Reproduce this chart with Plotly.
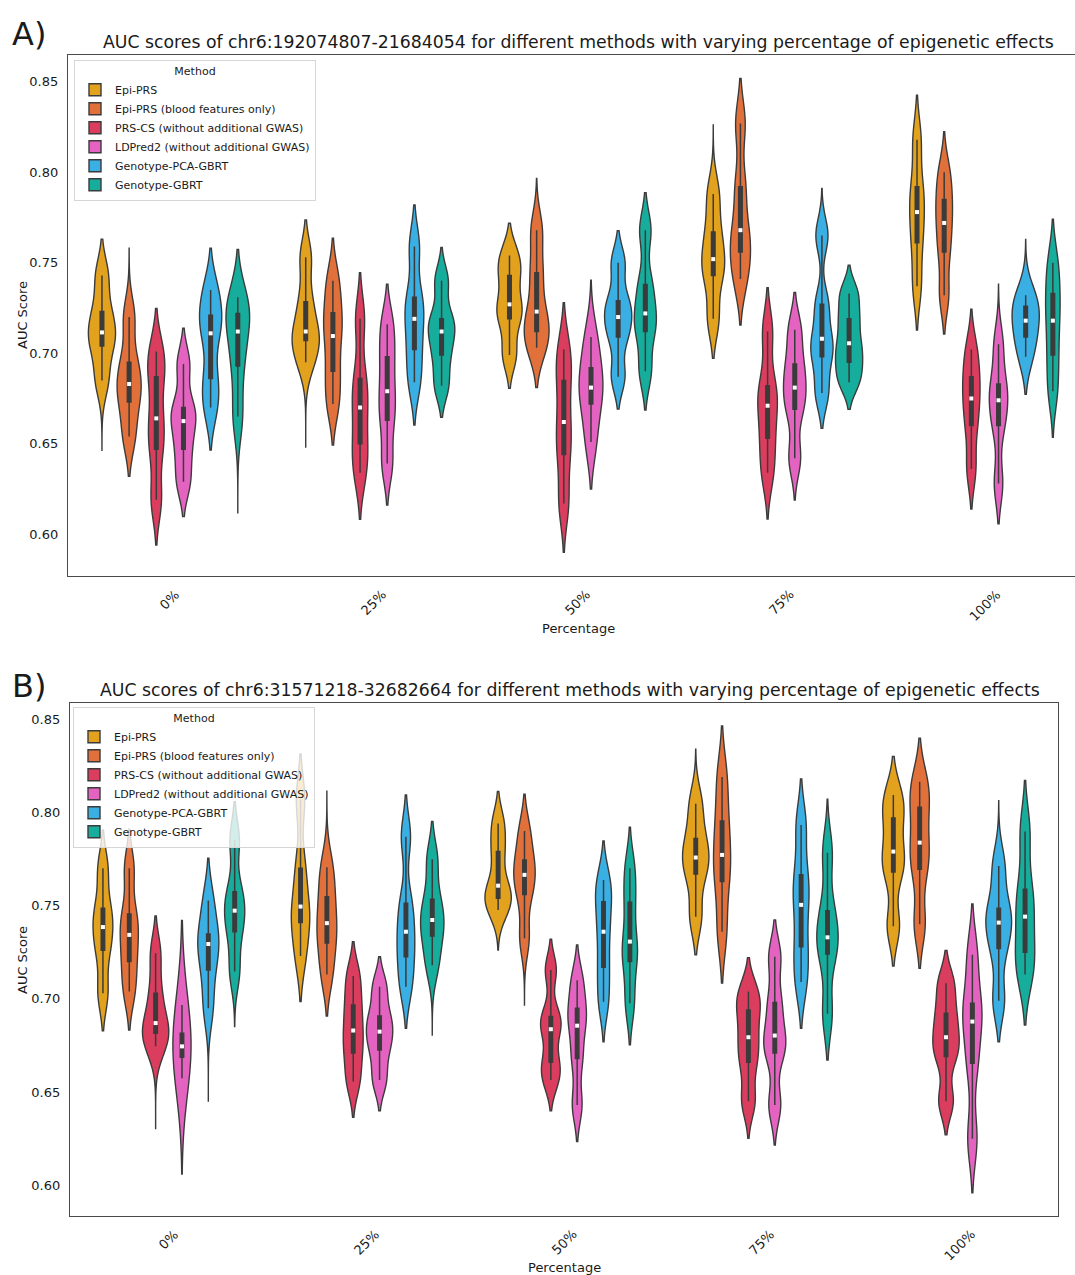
import plotly.graph_objects as go

FONT = "DejaVu Sans"
EDGE = "#3b3b3b"
AXIS = "#4a4a4a"
TEXT = "#1a1a1a"

METHODS = [
    "Epi-PRS",
    "Epi-PRS (blood features only)",
    "PRS-CS (without additional GWAS)",
    "LDPred2 (without additional GWAS)",
    "Genotype-PCA-GBRT",
    "Genotype-GBRT",
]
COLORS = ["#E3A21E", "#E2703A", "#DA3D5E", "#E463C0", "#3AAFE4", "#17AD9C"]
PERCENTAGES = ["0%", "25%", "50%", "75%", "100%"]

# ---------------- Panel A: chr6:192074807-21684054 ----------------
# rows = METHODS, columns = PERCENTAGES
A_WLO = [
    [0.685, 0.695, 0.699, 0.719, 0.737],
    [0.654, 0.672, 0.703, 0.741, 0.732],
    [0.619, 0.634, 0.617, 0.634, 0.636],
    [0.629, 0.639, 0.651, 0.642, 0.628],
    [0.670, 0.684, 0.687, 0.678, 0.698],
    [0.665, 0.682, 0.690, 0.684, 0.679],
]
A_Q1 = [
    [0.704, 0.707, 0.719, 0.743, 0.761],
    [0.673, 0.690, 0.712, 0.756, 0.756],
    [0.647, 0.650, 0.644, 0.653, 0.660],
    [0.647, 0.663, 0.672, 0.669, 0.660],
    [0.686, 0.702, 0.709, 0.698, 0.709],
    [0.693, 0.699, 0.712, 0.695, 0.699],
]
A_MED = [
    [0.7115, 0.712, 0.727, 0.752, 0.778],
    [0.683, 0.7095, 0.723, 0.768, 0.772],
    [0.664, 0.670, 0.662, 0.671, 0.675],
    [0.6625, 0.679, 0.681, 0.681, 0.674],
    [0.711, 0.719, 0.720, 0.708, 0.718],
    [0.712, 0.712, 0.722, 0.7055, 0.718],
]
A_Q3 = [
    [0.723, 0.7285, 0.743, 0.767, 0.792],
    [0.695, 0.7224, 0.7445, 0.792, 0.785],
    [0.687, 0.686, 0.685, 0.682, 0.687],
    [0.670, 0.698, 0.692, 0.694, 0.683],
    [0.721, 0.731, 0.729, 0.727, 0.726],
    [0.722, 0.719, 0.738, 0.719, 0.733],
]
A_WHI = [
    [0.743, 0.753, 0.754, 0.788, 0.818],
    [0.720, 0.740, 0.768, 0.827, 0.800],
    [0.701, 0.719, 0.702, 0.712, 0.702],
    [0.694, 0.716, 0.709, 0.713, 0.705],
    [0.735, 0.759, 0.750, 0.765, 0.732],
    [0.731, 0.740, 0.768, 0.733, 0.750],
]
# ends of the violin outlines (tips)
A_TOP = [
    [0.763, 0.7736, 0.7718, 0.8261, 0.8426],
    [0.758, 0.7635, 0.7966, 0.8519, 0.8224],
    [0.7248, 0.7445, 0.7279, 0.7362, 0.7243],
    [0.7138, 0.7382, 0.7404, 0.7336, 0.7382],
    [0.758, 0.7819, 0.7677, 0.7911, 0.7629],
    [0.7574, 0.7585, 0.7887, 0.7487, 0.774],
]
A_BOT = [
    [0.646, 0.6478, 0.6806, 0.6972, 0.7128],
    [0.632, 0.6493, 0.6811, 0.7156, 0.7106],
    [0.594, 0.6082, 0.590, 0.6084, 0.6139],
    [0.6097, 0.6161, 0.625, 0.6189, 0.6057],
    [0.6465, 0.6603, 0.6692, 0.6585, 0.6773],
    [0.6115, 0.6646, 0.6686, 0.669, 0.6535],
]

# ---------------- Panel B: chr6:31571218-32682664 ----------------
B_WLO = [
    [0.703, 0.723, 0.7477, 0.744, 0.739],
    [0.704, 0.713, 0.7325, 0.736, 0.740],
    [0.6745, 0.6556, 0.6565, 0.645, 0.645],
    [0.6574, 0.6565, 0.643, 0.643, 0.625],
    [0.695, 0.7065, 0.6985, 0.709, 0.699],
    [0.7146, 0.718, 0.6976, 0.692, 0.713],
]
B_Q1 = [
    [0.726, 0.741, 0.754, 0.767, 0.768],
    [0.720, 0.730, 0.756, 0.763, 0.7695],
    [0.6815, 0.671, 0.666, 0.666, 0.669],
    [0.6687, 0.6726, 0.668, 0.671, 0.6655],
    [0.7155, 0.7226, 0.717, 0.728, 0.727],
    [0.736, 0.7337, 0.720, 0.724, 0.725],
]
B_MED = [
    [0.7385, 0.7495, 0.7607, 0.7758, 0.779],
    [0.7343, 0.7406, 0.7665, 0.7772, 0.7838],
    [0.687, 0.683, 0.6837, 0.6794, 0.6794],
    [0.6745, 0.6824, 0.6856, 0.6803, 0.6878],
    [0.7294, 0.736, 0.736, 0.7504, 0.7409],
    [0.7473, 0.7423, 0.7307, 0.733, 0.7441],
]
B_Q3 = [
    [0.7486, 0.770, 0.779, 0.786, 0.797],
    [0.7455, 0.7548, 0.7745, 0.7954, 0.8028],
    [0.703, 0.6967, 0.6905, 0.694, 0.6923],
    [0.6815, 0.6908, 0.695, 0.698, 0.6976],
    [0.7348, 0.7513, 0.7521, 0.7665, 0.7486],
    [0.7575, 0.7534, 0.7518, 0.7473, 0.7588],
]
B_WHI = [
    [0.770, 0.807, 0.794, 0.8046, 0.8094],
    [0.770, 0.7706, 0.790, 0.819, 0.8165],
    [0.7245, 0.7123, 0.7155, 0.7039, 0.7084],
    [0.6967, 0.7065, 0.710, 0.7226, 0.7236],
    [0.7527, 0.787, 0.7638, 0.7933, 0.7713],
    [0.7852, 0.7749, 0.770, 0.7784, 0.7897],
]
B_TOP = [
    [0.7906, 0.8314, 0.8112, 0.8339, 0.830],
    [0.791, 0.8117, 0.8098, 0.8464, 0.8398],
    [0.7445, 0.7307, 0.732, 0.7221, 0.7259],
    [0.742, 0.7226, 0.7289, 0.7423, 0.7509],
    [0.7754, 0.8094, 0.7847, 0.818, 0.8063],
    [0.8058, 0.7951, 0.7921, 0.8071, 0.8171],
]
B_BOT = [
    [0.6829, 0.6985, 0.7262, 0.7236, 0.7176],
    [0.6833, 0.6908, 0.6967, 0.7084, 0.7164],
    [0.630, 0.6365, 0.640, 0.6252, 0.627],
    [0.606, 0.6399, 0.6234, 0.6216, 0.596],
    [0.6448, 0.6842, 0.677, 0.6842, 0.677],
    [0.6851, 0.6806, 0.6753, 0.6672, 0.686],
]

A_TITLE = "AUC scores of chr6:192074807-21684054 for different methods with varying percentage of epigenetic effects"
B_TITLE = "AUC scores of chr6:31571218-32682664 for different methods with varying percentage of epigenetic effects"

W, H = 1075, 1275

fig = go.Figure()

panels = [
    dict(key="A", xa="x", ya="y", leg="legend",
         wlo=A_WLO, q1=A_Q1, med=A_MED, q3=A_Q3, whi=A_WHI, top=A_TOP, bot=A_BOT),
    dict(key="B", xa="x2", ya="y2", leg="legend2",
         wlo=B_WLO, q1=B_Q1, med=B_MED, q3=B_Q3, whi=B_WHI, top=B_TOP, bot=B_BOT),
]

for p in panels:
    for m, name in enumerate(METHODS):
        og = f"{p['key']}-{m}"
        for j, pct in enumerate(PERCENTAGES):
            sample = [p["wlo"][m][j], p["q1"][m][j], p["med"][m][j],
                      p["q3"][m][j], p["whi"][m][j]]
            top, bot = p["top"][m][j], p["bot"][m][j]
            # kernel width from the shorter of the two tails (seaborn cut = 2 bw)
            bw = max(min(top - max(sample), min(sample) - bot) / 2.0, 0.005)
            fig.add_trace(go.Violin(
                x=[pct] * len(sample), y=sample, name=name,
                showlegend=(j == 0), legend=p["leg"],
                offsetgroup=og, scalegroup=f"{p['key']}{j}", scalemode="width",
                bandwidth=bw, spanmode="manual", span=[bot, top],
                fillcolor=COLORS[m], line=dict(color=EDGE, width=1.4),
                points=False, box_visible=False, meanline_visible=False,
                opacity=1, hoverinfo="skip",
                xaxis=p["xa"], yaxis=p["ya"],
            ))
        fig.add_trace(go.Box(
            x=PERCENTAGES, q1=p["q1"][m], median=p["med"][m], q3=p["q3"][m],
            lowerfence=p["wlo"][m], upperfence=p["whi"][m],
            offsetgroup=og, fillcolor=EDGE, line=dict(color=EDGE, width=1.5),
            whiskerwidth=0, boxpoints=False, showlegend=False, hoverinfo="skip",
            xaxis=p["xa"], yaxis=p["ya"],
        ))
        fig.add_trace(go.Scatter(
            x=PERCENTAGES, y=p["med"][m], mode="markers",
            marker=dict(symbol="square", size=4, color="white", line=dict(width=0)),
            offsetgroup=og, showlegend=False, hoverinfo="skip",
            xaxis=p["xa"], yaxis=p["ya"],
        ))

ticks_y = [0.60, 0.65, 0.70, 0.75, 0.80, 0.85]
common_x = dict(type="category", categoryorder="array", categoryarray=PERCENTAGES,
                showline=True, linecolor=AXIS, linewidth=1.3, mirror=True,
                ticks="", showgrid=False, zeroline=False, showticklabels=False)
common_y = dict(showline=True, linecolor=AXIS, linewidth=1.3,
                ticks="", showgrid=False, zeroline=False,
                tickvals=ticks_y, tickformat=".2f", ticklabelstandoff=6,
                tickfont=dict(size=13, family=FONT, color=TEXT))

legend_common = dict(xanchor="left", yanchor="top",
                     bgcolor="rgba(255,255,255,0.8)", bordercolor="#d6d6d6", borderwidth=1,
                     font=dict(size=11, family=FONT, color=TEXT), tracegroupgap=0,
                     title=dict(text="Method", side="top center", font=dict(size=11)))

fig.update_layout(
    width=W, height=H, margin=dict(l=0, r=0, t=0, b=0),
    paper_bgcolor="white", plot_bgcolor="white",
    font=dict(family=FONT, color=TEXT),
    violinmode="group", violingap=0.2, violingroupgap=0,
    boxmode="group", boxgap=0.2, boxgroupgap=0.87,
    scattermode="group", scattergap=0.2,
    xaxis=dict(domain=[68 / W, 1.0], anchor="y", range=[-0.5, 4.442], **common_x),
    yaxis=dict(domain=[1 - 576 / H, 1 - 55 / H], anchor="x", range=[0.5769, 0.8648],
               mirror=False, **common_y),
    xaxis2=dict(domain=[70 / W, 1058 / W], anchor="y2", range=[-0.5, 4.5], **common_x),
    yaxis2=dict(domain=[1 - 1216 / H, 1 - 703 / H], anchor="x2", range=[0.5835, 0.8587],
                mirror=True, **common_y),
    legend=dict(x=74 / W, y=1 - 60 / H, **legend_common),
    legend2=dict(x=73 / W, y=1 - 707 / H, **legend_common),
)

ann = [
    dict(text="A)", x=10 / W, y=1 - 34 / H, font=dict(size=32), xanchor="left", yanchor="middle"),
    dict(text="B)", x=10 / W, y=1 - 686 / H, font=dict(size=32), xanchor="left", yanchor="middle"),
    dict(text=A_TITLE, x=578 / W, y=1 - 42 / H, font=dict(size=17.3), xanchor="center", yanchor="middle"),
    dict(text=B_TITLE, x=570 / W, y=1 - 690 / H, font=dict(size=17.3), xanchor="center", yanchor="middle"),
    dict(text="AUC Score", x=22 / W, y=1 - 315 / H, textangle=-90, font=dict(size=13), xanchor="center", yanchor="middle"),
    dict(text="AUC Score", x=22 / W, y=1 - 960 / H, textangle=-90, font=dict(size=13), xanchor="center", yanchor="middle"),
    dict(text="Percentage", x=578 / W, y=1 - 628 / H, font=dict(size=13), xanchor="center", yanchor="middle"),
    dict(text="Percentage", x=564 / W, y=1 - 1267 / H, font=dict(size=13), xanchor="center", yanchor="middle"),
]
for a in ann:
    a.update(xref="paper", yref="paper", showarrow=False)
# rotated category labels, centred under each category (matplotlib style)
for xref, ybottom in (("x", 576), ("x2", 1216)):
    for pct in PERCENTAGES:
        ann.append(dict(text=pct, x=pct, xref=xref, y=1 - (ybottom + 8) / H, yref="paper",
                        textangle=-45, font=dict(size=13), xanchor="center", yanchor="top",
                        showarrow=False))
for a in ann:
    a["font"].update(family=FONT, color=TEXT)
fig.update_layout(annotations=ann)

fig.write_html("out.html", config={"displayModeBar": False},
               post_script="document.body.style.margin='0px';")
